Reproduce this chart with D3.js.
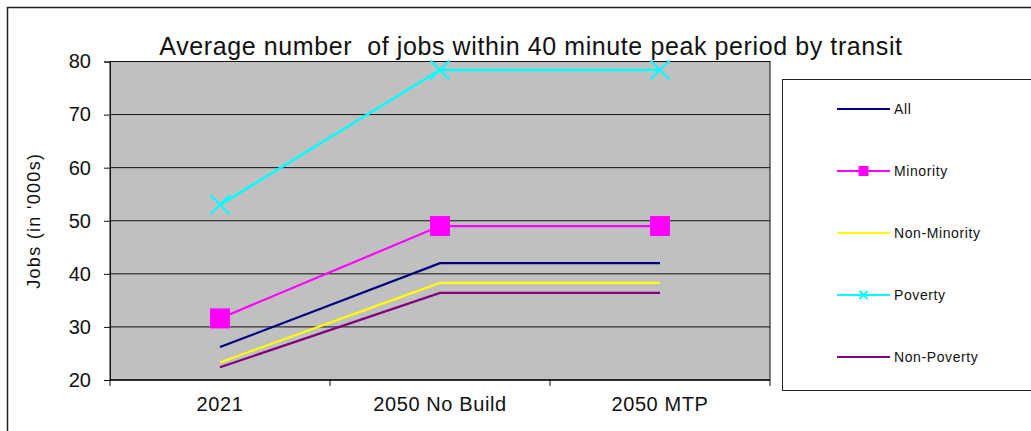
<!DOCTYPE html>
<html>
<head>
<meta charset="utf-8">
<title>Average number of jobs within 40 minute peak period by transit</title>
<script src="https://d3js.org/d3.v7.min.js"></script>
<style>
  body { margin: 0; background: #fff; }
  text { font-family: "Liberation Sans", Arial, sans-serif; fill: #111; }
</style>
</head>
<body>
<svg id="chart"></svg>
<script>
// data (jobs in thousands)
var categories = ["2021", "2050 No Build", "2050 MTP"];
var seriesNames = ["All", "Minority", "Non-Minority", "Poverty", "Non-Poverty"];
var allJobs = [26.2, 42.0, 42.0];
var minorityJobs = [31.6, 49.0, 49.0];
var nonMinorityJobs = [23.3, 38.3, 38.3];
var povertyJobs = [53.0, 78.4, 78.4];
var nonPovertyJobs = [22.4, 36.4, 36.4];
var yTicks = [20, 30, 40, 50, 60, 70, 80];

var width = 1031, height = 431;
var plot = { left: 110, top: 61.5, right: 770, bottom: 380 };

var series = [
  { name: seriesNames[0], values: allJobs, color: "#000080", marker: null },
  { name: seriesNames[1], values: minorityJobs, color: "#ff00ff", marker: "square" },
  { name: seriesNames[2], values: nonMinorityJobs, color: "#ffff00", marker: null },
  { name: seriesNames[3], values: povertyJobs, color: "#00ffff", marker: "x" },
  { name: seriesNames[4], values: nonPovertyJobs, color: "#800080", marker: null }
];

var svg = d3.select("#chart").attr("width", width).attr("height", height);

// outer chart frame (runs off the picture on right and bottom)
svg.append("rect")
  .attr("x", 7.5).attr("y", 7.5)
  .attr("width", width + 10).attr("height", height + 10)
  .attr("fill", "none").attr("stroke", "#222").attr("stroke-width", 1.5);

var x = d3.scaleBand().domain(categories).range([plot.left, plot.right]);
var y = d3.scaleLinear().domain([20, 80]).range([plot.bottom, plot.top]);

// plot area
svg.append("rect")
  .attr("x", plot.left).attr("y", plot.top)
  .attr("width", plot.right - plot.left).attr("height", plot.bottom - plot.top)
  .attr("fill", "#c0c0c0").attr("stroke", "#111").attr("stroke-width", 1);

// gridlines
svg.append("g").selectAll("line")
  .data(yTicks)
  .join("line")
  .attr("x1", plot.left).attr("x2", plot.right)
  .attr("y1", function (d) { return y(d); })
  .attr("y2", function (d) { return y(d); })
  .attr("stroke", "#111").attr("stroke-width", 1);

// y axis
var yAxis = svg.append("g")
  .attr("transform", "translate(" + plot.left + ",0)")
  .call(d3.axisLeft(y).tickValues(yTicks).tickSize(6).tickPadding(13));
yAxis.select(".domain").attr("stroke", "#111");
yAxis.selectAll(".tick line").attr("stroke", "#111");
yAxis.selectAll(".tick text")
  .attr("font-size", 20).attr("fill", "#111")
  .style("font-family", "'Liberation Sans', Arial, sans-serif");

// x axis: ticks sit on the band edges
var xAxis = svg.append("g")
  .attr("transform", "translate(0," + plot.bottom + ")");
xAxis.append("line")
  .attr("x1", plot.left).attr("x2", plot.right)
  .attr("stroke", "#111");
var edges = categories.map(function (c) { return x(c); }).concat([x(categories[2]) + x.bandwidth()]);
xAxis.selectAll(".edge")
  .data(edges)
  .join("line")
  .attr("class", "edge")
  .attr("x1", function (d) { return d; }).attr("x2", function (d) { return d; })
  .attr("y1", 0).attr("y2", 6)
  .attr("stroke", "#111");
xAxis.selectAll(".lab")
  .data(categories)
  .join("text")
  .attr("class", "lab")
  .attr("x", function (d) { return x(d) + x.bandwidth() / 2; })
  .attr("y", 31)
  .attr("text-anchor", "middle")
  .attr("font-size", 20)
  .attr("letter-spacing", 0.6)
  .text(function (d) { return d; });

// y axis title
svg.append("text")
  .attr("transform", "translate(40," + ((plot.top + plot.bottom) / 2) + ") rotate(-90)")
  .attr("text-anchor", "middle")
  .attr("font-size", 18)
  .attr("letter-spacing", 1.3)
  .text("Jobs (in '000s)");

// title
svg.append("text")
  .attr("x", 531).attr("y", 55)
  .attr("text-anchor", "middle")
  .attr("font-size", 25)
  .attr("letter-spacing", 0.6)
  .style("white-space", "pre")
  .attr("xml:space", "preserve")
  .text("Average number  of jobs within 40 minute peak period by transit");

// lines
var line = d3.line()
  .x(function (d, i) { return x(categories[i]) + x.bandwidth() / 2; })
  .y(function (d) { return y(d); });

var drawOrder = [4, 2, 0, 1, 3];
drawOrder.forEach(function (k) {
  var s = series[k];
  var g = svg.append("g");
  g.append("path")
    .datum(s.values)
    .attr("d", line)
    .attr("fill", "none")
    .attr("stroke", s.color)
    .attr("stroke-width", k === 3 ? 2.5 : 2.2);
  if (s.marker === "square") {
    g.selectAll("rect")
      .data(s.values)
      .join("rect")
      .attr("x", function (d, i) { return x(categories[i]) + x.bandwidth() / 2 - 10; })
      .attr("y", function (d) { return y(d) - 10; })
      .attr("width", 20).attr("height", 20)
      .attr("fill", s.color);
  }
  if (s.marker === "x") {
    g.selectAll("path.mk")
      .data(s.values)
      .join("path")
      .attr("class", "mk")
      .attr("d", function (d, i) {
        var cx = x(categories[i]) + x.bandwidth() / 2, cy = y(d), r = 9.5;
        return "M" + (cx - r) + "," + (cy - r) + "L" + (cx + r) + "," + (cy + r) +
               "M" + (cx - r) + "," + (cy + r) + "L" + (cx + r) + "," + (cy - r);
      })
      .attr("stroke", s.color).attr("stroke-width", 2).attr("fill", "none");
  }
});

// legend
var legend = svg.append("g");
legend.append("rect")
  .attr("x", 782.5).attr("y", 79.5)
  .attr("width", 300).attr("height", 311)
  .attr("fill", "#fff").attr("stroke", "#222").attr("stroke-width", 1);

var item = legend.selectAll("g.item")
  .data(series)
  .join("g")
  .attr("class", "item")
  .attr("transform", function (d, i) { return "translate(0," + (109 + i * 62) + ")"; });
item.append("line")
  .attr("x1", 837).attr("x2", 890)
  .attr("stroke", function (d) { return d.color; })
  .attr("stroke-width", 2.2);
item.filter(function (d) { return d.marker === "square"; })
  .append("rect")
  .attr("x", 858.5).attr("y", -5).attr("width", 10).attr("height", 10)
  .attr("fill", function (d) { return d.color; });
item.filter(function (d) { return d.marker === "x"; })
  .append("path")
  .attr("d", "M859.5,-4L867.5,4M859.5,4L867.5,-4")
  .attr("stroke", function (d) { return d.color; })
  .attr("stroke-width", 1.8);
item.append("text")
  .attr("x", 894).attr("y", 5)
  .attr("font-size", 14)
  .attr("letter-spacing", 0.6)
  .text(function (d) { return d.name; });
</script>
</body>
</html>
